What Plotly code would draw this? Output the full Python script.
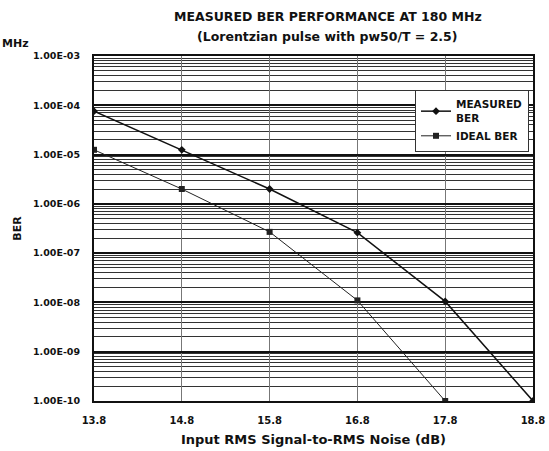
import plotly.graph_objects as go

snr_db = [13.8, 14.8, 15.8, 16.8, 17.8, 18.8]
measured_ber = [7.6e-5, 1.25e-5, 2.0e-6, 2.6e-7, 1.05e-8, 1.0e-10]
ideal_snr_db = [13.8, 14.8, 15.8, 16.8, 17.8]
ideal_ber = [1.25e-5, 2.0e-6, 2.7e-7, 1.1e-8, 1.0e-10]

x_ticks = [13.8, 14.8, 15.8, 16.8, 17.8, 18.8]
x_ticklabels = ["13.8", "14.8", "15.8", "16.8", "17.8", "18.8"]
y_ticks = [1e-3, 1e-4, 1e-5, 1e-6, 1e-7, 1e-8, 1e-9, 1e-10]
y_ticklabels = ["1.00E-03", "1.00E-04", "1.00E-05", "1.00E-06",
                "1.00E-07", "1.00E-08", "1.00E-09", "1.00E-10"]

title_line1 = "MEASURED BER PERFORMANCE AT 180 MHz"
title_line2 = "(Lorentzian pulse with pw50/T = 2.5)"

FONT = "DejaVu Sans, Verdana, sans-serif"
INK = "#111"

# plot area in pixels
L, R, T, B = 94, 533, 56, 401
W, H = 549, 451


def px_x(p):
    return (p - L) / (R - L)


fig = go.Figure()
fig.add_trace(go.Scatter(
    x=snr_db, y=measured_ber, name="MEASURED<br>BER", mode="lines+markers",
    line=dict(color=INK, width=1.5),
    marker=dict(symbol="diamond", size=6, color=INK),
))
fig.add_trace(go.Scatter(
    x=ideal_snr_db, y=ideal_ber, name="IDEAL BER", mode="lines+markers",
    line=dict(color="#222", width=1),
    marker=dict(symbol="square", size=6, color="#222"),
))

fig.update_layout(
    width=W, height=H,
    margin=dict(l=L, r=W - R, t=T, b=H - B, autoexpand=False),
    paper_bgcolor="white", plot_bgcolor="white",
    font=dict(family=FONT, size=10, color=INK, weight="bold"),
    showlegend=True,
    legend=dict(
        x=px_x(529), y=(B - 90) / (B - T), xanchor="right", yanchor="top",
        bgcolor="white", bordercolor="#333", borderwidth=1,
        font=dict(family=FONT, size=10.5, color=INK, weight="bold"),
        tracegroupgap=0, itemwidth=30,
    ),
    annotations=[
        dict(text=title_line1, xref="paper", yref="paper", x=px_x(328), y=1.0,
             yshift=40, xanchor="center", yanchor="middle", showarrow=False,
             font=dict(family=FONT, size=12.5, color=INK, weight="bold")),
        dict(text=title_line2, xref="paper", yref="paper", x=px_x(327), y=1.0,
             yshift=20, xanchor="center", yanchor="middle", showarrow=False,
             font=dict(family=FONT, size=12.5, color=INK, weight="bold")),
        dict(text="MHz", xref="paper", yref="paper", x=px_x(0), y=1.0,
             yshift=13, xanchor="left", yanchor="middle", showarrow=False,
             font=dict(family=FONT, size=11, color=INK, weight="bold")),
    ],
)

fig.update_xaxes(
    range=[13.8, 18.8], tickmode="array", tickvals=x_ticks, ticktext=x_ticklabels,
    showgrid=True, gridcolor="#777", gridwidth=1,
    showline=True, linecolor=INK, linewidth=2, mirror=True,
    ticks="", ticklabelstandoff=9, automargin=False,
    tickfont=dict(family=FONT, size=10, color=INK, weight="bold"),
    title=dict(text="Input RMS Signal-to-RMS Noise (dB)", standoff=10,
               font=dict(family=FONT, size=13, color=INK, weight="bold")),
    zeroline=False,
)
fig.update_yaxes(
    type="log", range=[-10, -3], tickmode="array", tickvals=y_ticks, ticktext=y_ticklabels,
    showgrid=True, gridcolor=INK, gridwidth=2,
    minor=dict(dtick="D1", showgrid=True, gridcolor="#333", gridwidth=1, ticks=""),
    showline=True, linecolor=INK, linewidth=2, mirror=True,
    ticks="", ticklabelstandoff=10, automargin=False,
    tickfont=dict(family=FONT, size=9.5, color=INK, weight="bold"),
    title=dict(text="BER", standoff=9,
               font=dict(family=FONT, size=11, color=INK, weight="bold")),
    zeroline=False,
)

fig.write_html("out.html", config={"displayModeBar": False},
               post_script="document.body.style.margin='0';")
